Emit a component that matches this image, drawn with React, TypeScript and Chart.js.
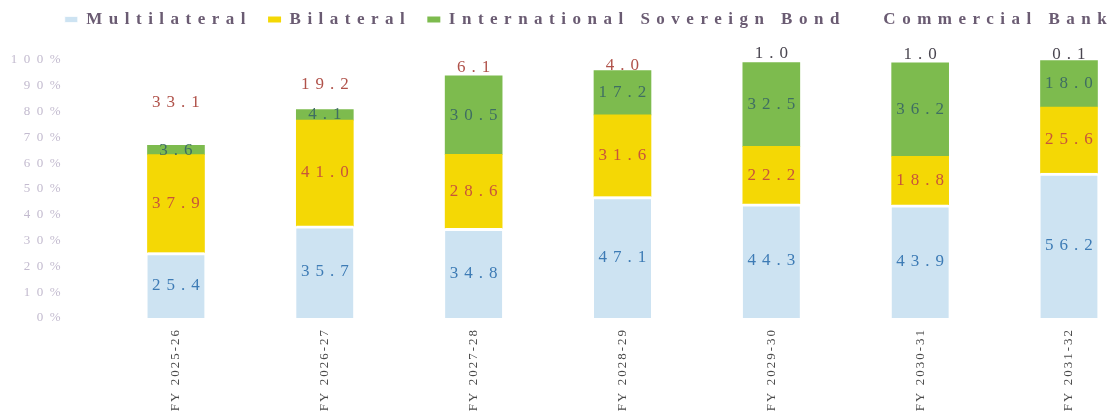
import React, { useEffect, useRef } from 'react';
import { Chart, registerables } from 'chart.js';

Chart.register(...registerables);

const categories = ['FY 2025-26', 'FY 2026-27', 'FY 2027-28', 'FY 2028-29', 'FY 2029-30', 'FY 2030-31', 'FY 2031-32'];
const multilateral = [25.4, 35.7, 34.8, 47.1, 44.3, 43.9, 56.2];
const bilateral = [37.9, 41.0, 28.6, 31.6, 22.2, 18.8, 25.6];
const sovereignBond = [3.6, 4.1, 30.5, 17.2, 32.5, 36.2, 18.0];
const commercialBank = [33.1, 19.2, 6.1, 4.0, 1.0, 1.0, 0.1];
const seriesNames = ['Multilateral', 'Bilateral', 'International Sovereign Bond', 'Commercial Bank'];
const yTickValues = [0, 10, 20, 30, 40, 50, 60, 70, 80, 90, 100];

const SERIF = '"Liberation Serif", "Times New Roman", serif';

const fills = ['#cde3f2', '#f4d805', '#7dbb4e', 'rgba(255,255,255,0)'];
const labelColors = [
  ['#3d7bb5'],
  ['#c8553a'],
  ['#3f6e62'],
  ['#b0524a', '#b0524a', '#b0524a', '#b0524a', '#4a4650', '#4a4650', '#4a4650'],
];

const toPoints = (arr: number[]) => arr.map((v, i) => ({ x: i, y: v }));

const spacingPlugin = {
  id: 'spacing',
  beforeInit(chart: any) {
    const leg = chart.legend;
    if (leg) {
      const origFit = leg.fit.bind(leg);
      leg.fit = () => {
        origFit();
        leg.height = 60;
      };
      const origDraw = leg.draw.bind(leg);
      leg.draw = () => {
        const ctx = chart.ctx;
        ctx.save();
        ctx.translate(34, -5);
        origDraw();
        ctx.restore();
      };
    }
  },
  beforeLayout(chart: any) {
    chart.ctx.letterSpacing = '6.5px';
  },
  beforeDraw(chart: any) {
    chart.ctx.letterSpacing = '6.5px';
  },
};

const labelPlugin = {
  id: 'segLabels',
  afterDatasetsDraw(chart: any) {
    const ctx = chart.ctx;
    ctx.save();
    ctx.letterSpacing = '6px';
    ctx.font = '17px ' + SERIF;
    ctx.textAlign = 'center';
    ctx.textBaseline = 'middle';
    chart.data.datasets.forEach((ds: any, di: number) => {
      const meta = chart.getDatasetMeta(di);
      meta.data.forEach((bar: any, i: number) => {
        const v = ds.data[i].y;
        const top = Math.min(bar.y, bar.base);
        const bottom = Math.max(bar.y, bar.base);
        let y = (top + bottom) / 2;
        if (bottom - top < 6) y = top - 6;
        const cols = labelColors[di];
        ctx.fillStyle = cols[Math.min(i, cols.length - 1)];
        ctx.fillText(v.toFixed(1), bar.x + 3, y);
      });
    });
    ctx.restore();
    ctx.letterSpacing = '2px';
  },
};

export default function App() {
  const ref = useRef<HTMLCanvasElement>(null);

  useEffect(() => {
    const seriesData = [multilateral, bilateral, sovereignBond, commercialBank];
    const datasets = seriesData.map((arr, di) => ({
      label: seriesNames[di],
      data: toPoints(arr),
      backgroundColor: fills[di],
      borderColor: '#ffffff',
      borderWidth: di === 0 ? { top: 3, bottom: 0, left: 0, right: 0 } : 0,
      borderSkipped: false,
      barThickness: 57,
    }));

    const chart = new Chart(ref.current as HTMLCanvasElement, {
      type: 'bar',
      data: { datasets } as any,
      plugins: [spacingPlugin, labelPlugin],
      options: {
        animation: false,
        responsive: true,
        maintainAspectRatio: false,
        events: [],
        layout: { padding: { left: 0, right: 9, top: 0, bottom: 0 } },
        plugins: {
          tooltip: { enabled: false },
          legend: {
            display: true,
            position: 'top',
            align: 'center',
            labels: {
              boxWidth: 13,
              boxHeight: 6,
              padding: 16,
              color: '#6a5b72',
              font: { family: SERIF, size: 17, weight: 'bold' },
            },
          },
        },
        scales: {
          x: {
            type: 'linear',
            offset: false,
            stacked: true,
            min: -0.712,
            max: 6.2755,
            grid: { display: false },
            border: { display: false },
            afterBuildTicks: (scale: any) => {
              scale.ticks = categories.map((_, i) => ({ value: i }));
            },
            afterFit: (scale: any) => {
              scale.height = 101;
            },
            ticks: {
              z: 1,
              autoSkip: false,
              maxRotation: 90,
              minRotation: 90,
              padding: 2,
              color: '#4a4a4a',
              font: { family: SERIF, size: 13 },
              callback: (v: any) => categories[Math.round(Number(v))] ?? '',
            },
          },
          y: {
            stacked: true,
            min: 0,
            max: 100,
            grid: { display: false },
            border: { display: false },
            afterBuildTicks: (scale: any) => {
              scale.ticks = yTickValues.map((v) => ({ value: v }));
            },
            afterFit: (scale: any) => {
              scale.width = 70;
            },
            ticks: {
              padding: -5,
              color: '#c3bbcf',
              font: { family: SERIF, size: 13 },
              callback: (v: any) => v + '%',
            },
          },
        },
      } as any,
    });
    return () => chart.destroy();
  }, []);

  return (
    <div style={{ position: 'fixed', left: 0, top: 0, width: 1119, height: 419, background: '#ffffff' }}>
      <canvas ref={ref} />
    </div>
  );
}
